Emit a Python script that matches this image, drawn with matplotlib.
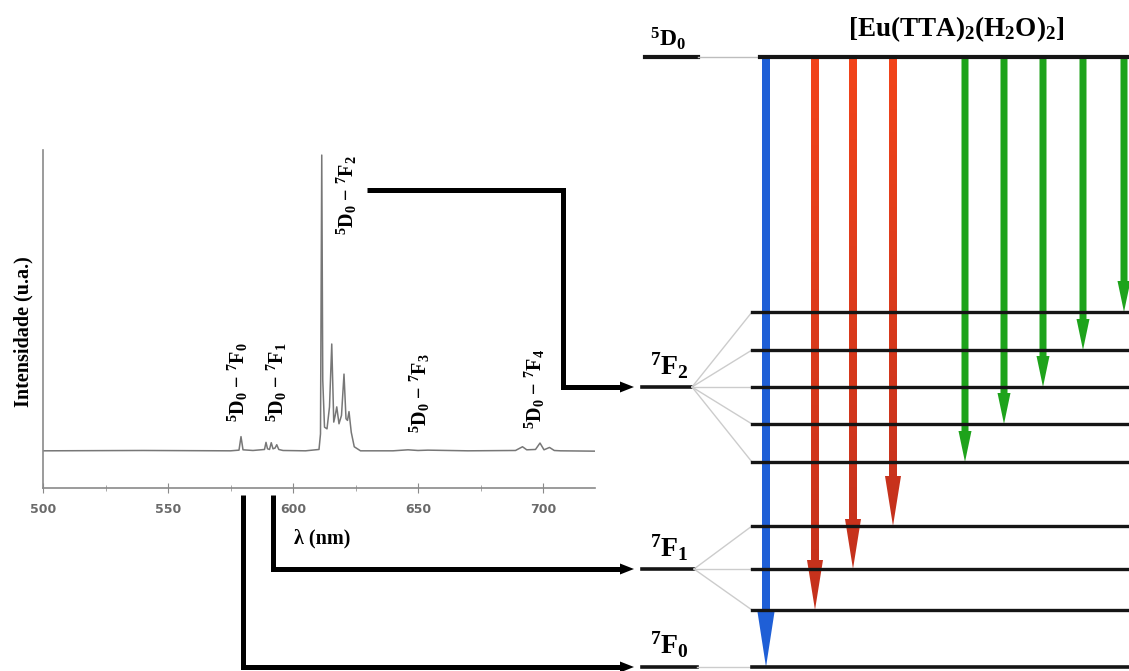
import numpy as np
import matplotlib
matplotlib.use("Agg")
import matplotlib.pyplot as plt
from matplotlib.patches import FancyArrow
from matplotlib.colors import LinearSegmentedColormap

plt.rcParams['mathtext.fontset'] = 'custom'
plt.rcParams['mathtext.rm'] = 'Liberation Serif'
plt.rcParams['mathtext.bf'] = 'Liberation Serif:bold'
plt.rcParams['mathtext.it'] = 'Liberation Serif:italic'

# Data ---------------------------------------------------------------------------------------------
# Emission spectrum (nm, arbitrary intensity)
wavelength = [500, 540, 575, 578.4, 579.2, 580.0, 584, 588.6, 589.2, 589.8,
              590.6, 591.3, 592.0, 592.8, 593.5, 594.3, 596, 605, 610.4, 611.0,
              611.5, 611.9, 612.6, 613.6, 614.6, 615.5, 616.3, 616.9, 617.5, 618.4,
              619.4, 620.4, 621.2, 621.8, 622.4, 623.3, 624.5, 627, 640, 646,
              650, 654, 670, 689, 691.8, 693.5, 697, 698.8, 700.4, 702.6,
              704.5, 707, 721]
intensity  = [0.110, 0.111, 0.110, 0.112, 0.152, 0.113, 0.111, 0.114, 0.135, 0.116,
              0.114, 0.134, 0.116, 0.118, 0.128, 0.114, 0.111, 0.110, 0.114, 0.160,
              0.985, 0.320, 0.180, 0.175, 0.240, 0.426, 0.195, 0.215, 0.240, 0.190,
              0.215, 0.337, 0.205, 0.200, 0.226, 0.165, 0.122, 0.110, 0.110, 0.113,
              0.111, 0.112, 0.110, 0.111, 0.122, 0.113, 0.114, 0.133, 0.113, 0.120,
              0.111, 0.110, 0.109]
tick_nm    = [500, 550, 600, 650, 700]
minor_nm   = [525, 575, 625, 675]

# 5D0 -> 7FJ transition labels on the spectrum
label_J    = [0, 1, 2, 3, 4]
label_nm   = [578.0, 593.6, 621.6, 650.8, 696.8]
label_int  = [0.314, 0.314, 0.867, 0.281, 0.293]

# Energy level diagram (pixel layout of the schematic)
level_5D0  = 57
manifold_y = {'F2': 387, 'F1': 569, 'F0': 667}
stark_F2   = [312, 350, 387, 424, 462]
stark_F1   = [526, 569, 610]
blue_x     = [766]
blue_end   = [667]
red_x      = [815, 853, 893]
red_end    = [610, 569, 526]
green_x    = [965, 1004, 1043, 1083, 1124]
green_end  = [462, 424, 387, 350, 312]

# connectors from spectrum bands to manifolds
conn_F2 = ([367, 563, 563, 622], [190, 190, 387, 387])
conn_F1 = ([273, 273, 622], [495, 569, 569])
conn_F0 = ([243, 243, 622], [495, 667, 667])

W, H = 1129, 671
fig = plt.figure(figsize=(W / 100, H / 100), dpi=100)

# Spectrum -----------------------------------------------------------------------------------------
ax = fig.add_axes([43 / W, (H - 488) / H, 552 / W, 338 / H])
ax.patch.set_alpha(0)
ax.plot(wavelength, intensity, color='#777777', lw=1.1)
ax.set_xlim(500, 720.8)
ax.set_ylim(0, 1)
for s in ['top', 'right']:
    ax.spines[s].set_visible(False)
for s in ['left', 'bottom']:
    ax.spines[s].set_color('#8a8a8a')
    ax.spines[s].set_linewidth(1.2)
ax.set_yticks([])
ax.set_xticks(tick_nm)
ax.set_xticks(minor_nm, minor=True)
ax.tick_params(axis='x', which='major', direction='inout', length=7, color='#8a8a8a',
               labelsize=9, labelcolor='#6a6a6a', pad=7)
ax.tick_params(axis='x', which='minor', direction='inout', length=4, color='#9a9a9a')
for lbl in ax.get_xticklabels():
    lbl.set_fontweight('bold')

for J, x, y in zip(label_J, label_nm, label_int):
    ax.text(x, y, r'$\mathbf{{}^{5}D_{0}\ {-}\ {}^{7}F_{%d}}$' % J, rotation=90,
            ha='center', va='center', fontsize=14.5)

# Diagram overlay ----------------------------------------------------------------------------------
dia = fig.add_axes([0, 0, 1, 1])
dia.set_xlim(0, W)
dia.set_ylim(H, 0)
dia.axis('off')

dia.text(23, 332, 'Intensidade (u.a.)', rotation=90, ha='center', va='center',
         family='Liberation Serif', weight='bold', fontsize=14.5)
dia.text(322, 538, 'λ (nm)', ha='center', va='center',
         family='Liberation Serif', weight='bold', fontsize=14.5)

# connectors
for xs, ys in [conn_F2, conn_F1, conn_F0]:
    dia.plot(xs, ys, color='black', lw=3.6, solid_joinstyle='miter', solid_capstyle='butt')
    dia.add_patch(FancyArrow(xs[-1] - 2, ys[-1], 14, 0, width=0.5, head_width=11, head_length=14,
                             length_includes_head=True, color='black', lw=0))

# levels
lc = '#151515'
dia.plot([645, 698], [level_5D0] * 2, color=lc, lw=3, zorder=4)
dia.plot([698, 760], [level_5D0] * 2, color='#bdbdbd', lw=1, zorder=4)
dia.plot([760, W], [level_5D0] * 2, color=lc, lw=3, zorder=4)

yF2 = manifold_y['F2']
dia.plot([642, 692], [yF2] * 2, color=lc, lw=2.6, zorder=4)
for y in stark_F2:
    dia.plot([692, 752], [yF2, y], color='#cccccc', lw=1, zorder=4)
    dia.plot([752, W], [y, y], color=lc, lw=2.4, zorder=4)

yF1 = manifold_y['F1']
dia.plot([642, 694], [yF1] * 2, color=lc, lw=2.6, zorder=4)
for y in stark_F1:
    dia.plot([694, 752], [yF1, y], color='#cccccc', lw=1, zorder=4)
    dia.plot([752, W], [y, y], color=lc, lw=2.4, zorder=4)

yF0 = manifold_y['F0']
dia.plot([642, 697], [yF0] * 2, color=lc, lw=2.6, zorder=4)
dia.plot([697, 752], [yF0] * 2, color='#cccccc', lw=1, zorder=4)
dia.plot([752, W], [yF0] * 2, color=lc, lw=2.6, zorder=4)

# transitions
def arrows(xs, ends, color, hw, hl, w, grad=None):
    for x, y in zip(xs, ends):
        arr = FancyArrow(x, level_5D0, 0, y - level_5D0, width=w, head_width=hw,
                         head_length=hl, length_includes_head=True, color=color,
                         lw=0, zorder=3)
        dia.add_patch(arr)
        if grad is not None:
            arr.set_alpha(0)
            cmap = LinearSegmentedColormap.from_list('g', grad)
            im = dia.imshow(np.linspace(0, 1, 100).reshape(-1, 1), cmap=cmap, aspect='auto',
                            extent=[x - hw, x + hw, y, level_5D0], zorder=3)
            im.set_clip_path(arr)
    dia.set_xlim(0, W)
    dia.set_ylim(H, 0)

arrows(blue_x, blue_end, '#1f5fd6', 17, 55, 8)
arrows(red_x, red_end, '#d8391b', 16, 50, 8, grad=['#f2441a', '#c4311d'])
arrows(green_x, green_end, '#1ea31b', 13, 31, 7)

# labels
dia.text(956, 29, r'$\mathbf{[Eu(TTA)_{2}(H_{2}O)_{2}]}$', ha='center', va='center', fontsize=19.5)
dia.text(668, 39, r'$\mathbf{{}^{5}D_{0}}$', ha='center', va='center', fontsize=17)
dia.text(669, 366, r'$\mathbf{{}^{7}F_{2}}$', ha='center', va='center', fontsize=20)
dia.text(669, 548, r'$\mathbf{{}^{7}F_{1}}$', ha='center', va='center', fontsize=20)
dia.text(669, 645, r'$\mathbf{{}^{7}F_{0}}$', ha='center', va='center', fontsize=20)

fig.savefig('out.png', dpi=100)
